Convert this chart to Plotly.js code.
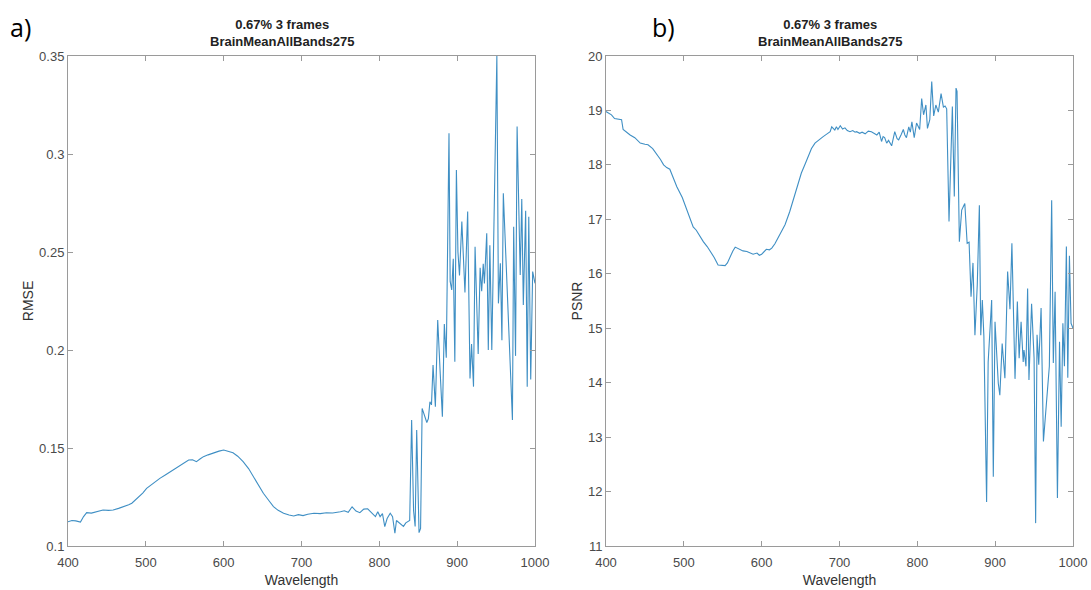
<!DOCTYPE html>
<html>
<head>
<meta charset="utf-8">
<script src="https://cdn.plot.ly/plotly-3.0.1.min.js"></script>
<style>
html,body{margin:0;padding:0;background:#fff;}
#chart{width:1091px;height:590px;}
</style>
</head>
<body>
<div id="chart"></div>
<script>
// ---- Data ----
const wavelengthA = [400,405,410,416,420,424,430,436,445,452,458,465,472,478,482,490,496,501,510,518,526,535,545,555,560,565,570,574,580,587,594,600,606,612,618,625,632,638,645,651,658,664,670,677,684,690,696,702,708,716,724,732,740,745,750,755,760,765,770,775,780,785,790,795,798,801,804,807,810,814,817,820,822,824,827,831,834,837,839,841.5,844,846,848,851,853,855,858,861,863,865,867,869,872,875,878,881,883.5,886,889.5,891,893,895,897,899,901,903,906,908,910,913.5,916.5,918.5,921,923,925,927,929.5,931.5,933.5,935,938,940,942,944.5,951,953,955.5,957.5,959.3,965,971,972.6,975,977,981,983,985,988,990,992,994.5,997,1000];
const rmse = [0.1124,0.1130,0.1128,0.1122,0.1150,0.1170,0.1168,0.1175,0.1184,0.1182,0.1184,0.1192,0.1200,0.1210,0.1218,0.1245,0.1270,0.1294,0.1322,0.1345,0.1365,0.1388,0.1415,0.1439,0.1440,0.1430,0.1445,0.1456,0.1465,0.1476,0.1484,0.1490,0.1484,0.1476,0.1458,0.1430,0.1395,0.1354,0.1310,0.1269,0.1232,0.1201,0.1182,0.1167,0.1158,0.1153,0.1160,0.1155,0.1162,0.1167,0.1165,0.1170,0.1168,0.1170,0.1175,0.1180,0.1172,0.1200,0.1178,0.1170,0.1188,0.1190,0.1168,0.1150,0.1175,0.1150,0.1165,0.1099,0.1140,0.1167,0.1150,0.1065,0.1130,0.1124,0.1115,0.1100,0.1118,0.1124,0.1130,0.1643,0.1180,0.1100,0.1592,0.1068,0.1090,0.1702,0.1660,0.1630,0.1650,0.1736,0.1720,0.1923,0.1710,0.2153,0.1900,0.1660,0.2133,0.1960,0.3106,0.2350,0.2306,0.2466,0.1940,0.2918,0.2500,0.2380,0.2655,0.2450,0.2293,0.2706,0.1855,0.2030,0.1813,0.2527,0.2250,0.1980,0.2420,0.2300,0.2440,0.2340,0.2595,0.2000,0.2535,0.2000,0.3500,0.2238,0.2443,0.2050,0.2800,0.2250,0.1643,0.2629,0.1970,0.3140,0.2383,0.2770,0.2230,0.2710,0.1813,0.2680,0.1850,0.2400,0.2340];

const wavelengthB = [400,404,407,411,414,420,422,426,431,437,444,450,454,460,465,470,474,478,482,487,491,498,504,508,512,516,520,525,530,534,539,544,548,553,556,559,563,566,569,572,576,581,585,589,594,597,600,603,606,610,613,617,621,626,630,636,640,643,647,651,656,660,664,668.5,674,679,684,688,690,692,694,696,698,701,704,707,710,713.5,717,720,722,726,729,733,737,741,744,748,751,754,756,758,760.6,763,767,769,771,774,776,779,782,784,786,789,791,793,796,799,801,803,805.6,808,811,813,816,818.5,821,823.8,827,830.5,833.5,835.6,837.7,840.7,845,847.5,849.7,851,854,857,859,861,864,866.5,869,871.5,874,877,879.7,881.5,883.5,885.5,889,891,895.5,897.6,899.8,904,906,909,912.5,916,919,921.5,925.5,928.5,930.8,933.3,936,937,939.6,941.7,943.4,946.8,950,952,953.8,956,959,962,969.6,972.6,974.7,977,980,982.7,984.8,987,989,991.5,993.3,995.4,997.5,1000];
const psnr = [18.98,18.95,18.92,18.85,18.84,18.83,18.65,18.60,18.55,18.50,18.40,18.38,18.37,18.30,18.21,18.10,18.00,17.95,17.92,17.75,17.60,17.40,17.17,17.00,16.86,16.80,16.70,16.59,16.50,16.41,16.30,16.16,16.15,16.15,16.20,16.30,16.42,16.49,16.47,16.45,16.42,16.41,16.38,16.36,16.38,16.34,16.36,16.40,16.45,16.44,16.47,16.55,16.65,16.78,16.90,17.14,17.32,17.48,17.66,17.85,18.02,18.18,18.30,18.40,18.47,18.52,18.57,18.61,18.70,18.66,18.64,18.70,18.65,18.72,18.66,18.68,18.63,18.61,18.63,18.60,18.61,18.58,18.60,18.57,18.62,18.61,18.58,18.55,18.60,18.43,18.52,18.50,18.40,18.45,18.35,18.50,18.61,18.48,18.46,18.55,18.65,18.55,18.50,18.70,18.60,18.79,18.50,18.77,18.70,18.65,19.22,18.92,19.10,18.67,18.83,19.53,18.90,19.10,18.97,19.31,19.06,19.08,19.03,16.96,19.07,17.42,19.41,19.35,16.59,17.17,17.23,17.29,16.56,16.58,15.58,16.20,14.87,15.80,17.26,14.87,15.52,14.85,11.81,14.38,15.52,12.27,15.12,13.99,13.77,14.72,14.08,16.04,15.35,16.56,14.07,15.49,14.45,15.12,14.38,14.60,14.30,15.73,14.05,15.45,14.45,11.42,14.88,14.33,15.37,12.92,14.30,17.35,14.36,15.67,11.88,14.75,13.19,15.09,14.30,16.50,14.09,16.33,15.09,15.00,15.10];

const xTicks = [400,500,600,700,800,900,1000];
const rmseTicks = [0.1,0.15,0.2,0.25,0.3,0.35];
const rmseTickText = ['0.1','0.15','0.2','0.25','0.3','0.35'];
const psnrTicks = [11,12,13,14,15,16,17,18,19,20];

const titleLine1 = '0.67% 3 frames';
const titleLine2 = 'BrainMeanAllBands275';

// ---- Styling ----
const W = 1091, H = 590;
const FONT = 'Liberation Sans, Arial, Helvetica, sans-serif';
const lineColor = '#3f8fc4';
const axisGray = '#9a9a9a';
const tickFont = {family: FONT, size: 13, color: '#4a4a4a'};

function px(x){ return x / W; }
function py(y){ return 1 - y / H; }

const commonAxis = {
  showline: true, mirror: 'ticks', linecolor: axisGray, linewidth: 1,
  ticks: 'inside', ticklen: 5, tickcolor: axisGray, tickwidth: 1,
  showgrid: false, zeroline: false, tickfont: tickFont, automargin: false
};

const traces = [
  {x: wavelengthA, y: rmse, type: 'scatter', mode: 'lines', xaxis: 'x', yaxis: 'y',
   line: {color: lineColor, width: 1.1}, hoverinfo: 'x+y'},
  {x: wavelengthB, y: psnr, type: 'scatter', mode: 'lines', xaxis: 'x2', yaxis: 'y2',
   line: {color: lineColor, width: 1.1}, hoverinfo: 'x+y'}
];

const yDom = [py(546), py(56)];

const layout = {
  width: W, height: H,
  margin: {l: 0, r: 0, t: 0, b: 0},
  paper_bgcolor: '#fff', plot_bgcolor: '#fff',
  showlegend: false,
  font: {family: FONT},
  xaxis: Object.assign({}, commonAxis, {
    domain: [px(68), px(535)], range: [400, 1000], anchor: 'y',
    tickvals: xTicks, ticklabelstandoff: 4,
    title: {text: 'Wavelength', font: {family: FONT, size: 14, color: '#333'}, standoff: 6}
  }),
  yaxis: Object.assign({}, commonAxis, {
    domain: yDom, range: [0.1, 0.35], anchor: 'x',
    tickvals: rmseTicks, ticktext: rmseTickText,
    title: {text: 'RMSE', font: {family: FONT, size: 14, color: '#333'}, standoff: 2}
  }),
  xaxis2: Object.assign({}, commonAxis, {
    domain: [px(606), px(1073)], range: [400, 1000], anchor: 'y2',
    tickvals: xTicks, ticklabelstandoff: 4,
    title: {text: 'Wavelength', font: {family: FONT, size: 14, color: '#333'}, standoff: 6}
  }),
  yaxis2: Object.assign({}, commonAxis, {
    domain: yDom, range: [11, 20], anchor: 'x2',
    tickvals: psnrTicks,
    title: {text: 'PSNR', font: {family: FONT, size: 14, color: '#333'}, standoff: 2}
  }),
  annotations: [
    {text: '<b>' + titleLine1 + '</b><br><b>' + titleLine2 + '</b>', xref: 'paper', yref: 'paper',
     x: px(282), y: py(15), xanchor: 'center', yanchor: 'top', showarrow: false,
     font: {family: FONT, size: 13, color: '#222'}},
    {text: '<b>' + titleLine1 + '</b><br><b>' + titleLine2 + '</b>', xref: 'paper', yref: 'paper',
     x: px(830), y: py(15), xanchor: 'center', yanchor: 'top', showarrow: false,
     font: {family: FONT, size: 13, color: '#222'}},
    {text: 'a)', xref: 'paper', yref: 'paper', x: px(8), y: py(8), xanchor: 'left', yanchor: 'top',
     showarrow: false, font: {family: 'Open Sans, Noto Sans, sans-serif', size: 25, color: '#000'}},
    {text: 'b)', xref: 'paper', yref: 'paper', x: px(650), y: py(8), xanchor: 'left', yanchor: 'top',
     showarrow: false, font: {family: 'Open Sans, Noto Sans, sans-serif', size: 25, color: '#000'}}
  ]
};

Plotly.newPlot('chart', traces, layout, {displayModeBar: false, staticPlot: true});
</script>
</body>
</html>
